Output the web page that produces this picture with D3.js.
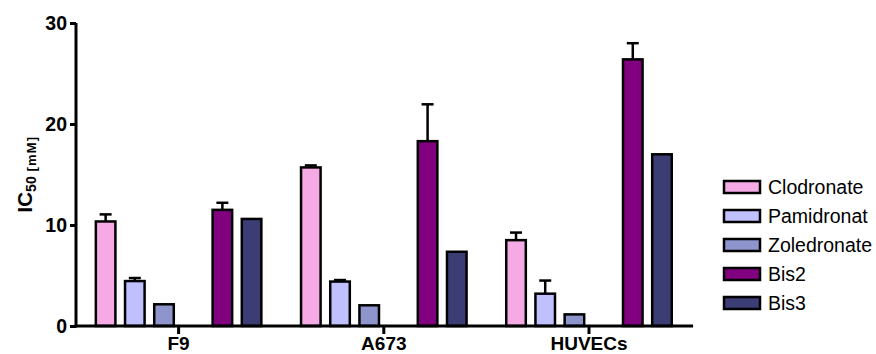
<!DOCTYPE html>
<html>
<head>
<meta charset="utf-8">
<script src="https://cdn.jsdelivr.net/npm/d3@7"></script>
<style>
  html, body { margin: 0; padding: 0; background: #fff; }
  svg { display: block; font-family: "Liberation Sans", Arial, sans-serif; }
</style>
</head>
<body>
<svg id="chart" width="876" height="354"></svg>
<script>
// Cell lines on the x axis
const cellLines = ["F9", "A673", "HUVECs"];

// Compounds (legend order)
const compounds = ["Clodronate", "Pamidronat", "Zoledronate", "Bis2", "Bis3"];
const colors = ["#f5aae6", "#c0c0fe", "#8e95cc", "#800080", "#3d3d75"];

// IC50 means per compound, one value per cell line
const clodronate  = [10.35, 15.7, 8.5];
const pamidronat  = [4.45, 4.4, 3.2];
const zoledronate = [2.15, 2.05, 1.15];
const bis2        = [11.5, 18.3, 26.4];
const bis3        = [10.6, 7.35, 17.0];

// Upper error (SD) per compound
const clodronateErr  = [0.7, 0.2, 0.75];
const pamidronatErr  = [0.3, 0.15, 1.3];
const zoledronateErr = [0, 0, 0];
const bis2Err        = [0.7, 3.65, 1.6];
const bis3Err        = [0, 0, 0];

const yTicks = [0, 10, 20, 30];

const means = [clodronate, pamidronat, zoledronate, bis2, bis3];
const errs  = [clodronateErr, pamidronatErr, zoledronateErr, bis2Err, bis3Err];

const rows = [];
compounds.forEach((c, i) => {
  cellLines.forEach((g, j) => {
    rows.push({ compound: c, idx: i, group: g, value: means[i][j], err: errs[i][j] });
  });
});

const svg = d3.select("#chart");
const plotLeft = 76, plotRight = 691.6, plotTop = 23, plotBottom = 326;

const x0 = d3.scaleBand().domain(cellLines).range([plotLeft, plotRight]).padding(0);
// six slots per group; the fourth slot stays empty
const slots = d3.range(6);
const slotOf = i => (i < 3 ? i : i + 1);
const x1 = d3.scaleBand().domain(slots).range([0, x0.bandwidth()])
  .paddingInner(0.33).paddingOuter(0.68);
const y = d3.scaleLinear().domain([0, 30]).range([plotBottom, plotTop]);

// bars
const bars = svg.append("g");
bars.selectAll("rect").data(rows).join("rect")
  .attr("x", d => x0(d.group) + x1(slotOf(d.idx)))
  .attr("y", d => y(d.value))
  .attr("width", x1.bandwidth())
  .attr("height", d => y(0) - y(d.value))
  .attr("fill", d => colors[d.idx])
  .attr("stroke", "#000")
  .attr("stroke-width", 2.5);

// upper error bars
const eb = svg.append("g").attr("stroke", "#000").attr("stroke-width", 2.5);
rows.filter(d => d.err > 0).forEach(d => {
  const cx = x0(d.group) + x1(slotOf(d.idx)) + x1.bandwidth() / 2;
  eb.append("line").attr("x1", cx).attr("x2", cx)
    .attr("y1", y(d.value)).attr("y2", y(d.value + d.err));
  eb.append("line").attr("x1", cx - 6).attr("x2", cx + 6)
    .attr("y1", y(d.value + d.err)).attr("y2", y(d.value + d.err));
});

// y axis
const yAxis = svg.append("g").attr("transform", `translate(${plotLeft},0)`)
  .call(d3.axisLeft(y).tickValues(yTicks).tickSize(6).tickPadding(3).tickSizeOuter(0));
yAxis.select(".domain").attr("stroke-width", 3).attr("d", `M0,${plotBottom + 1.5}V${plotTop}`);
yAxis.selectAll(".tick line").attr("stroke-width", 3);
yAxis.selectAll(".tick text").attr("font-size", 19.5).attr("font-weight", "bold")
  .attr("font-family", "Liberation Sans, Arial, sans-serif").attr("fill", "#000");

// x axis
const xAxis = svg.append("g").attr("transform", `translate(0,${plotBottom})`)
  .call(d3.axisBottom(x0).tickSize(8).tickPadding(3).tickSizeOuter(0));
xAxis.select(".domain").attr("stroke-width", 3).attr("d", `M${plotLeft - 1.5},0H${plotRight + 1.5}`);
xAxis.selectAll(".tick line").attr("stroke-width", 3);
xAxis.selectAll(".tick text").attr("font-size", 19).attr("font-weight", "bold")
  .attr("font-family", "Liberation Sans, Arial, sans-serif").attr("fill", "#000");

// y axis title
const yt = svg.append("text")
  .attr("transform", "translate(32,174) rotate(-90)")
  .attr("text-anchor", "middle")
  .attr("font-weight", "bold").attr("font-size", 20.5).attr("fill", "#000");
yt.append("tspan").text("IC");
yt.append("tspan").attr("font-size", 14).attr("dy", 4).text("50");
yt.append("tspan").attr("font-size", 13).attr("letter-spacing", 1.2).text(" [mM]");

// legend
const legend = svg.append("g").attr("transform", "translate(724,181)");
const li = legend.selectAll("g").data(compounds).join("g")
  .attr("transform", (d, i) => `translate(0,${i * 29})`);
li.append("rect").attr("width", 36).attr("height", 12)
  .attr("fill", (d, i) => colors[i]).attr("stroke", "#000").attr("stroke-width", 2.5);
li.append("text").attr("x", 44).attr("y", 6).attr("dy", "0.36em")
  .attr("font-size", 19.5).attr("fill", "#000").text(d => d);
</script>
</body>
</html>
